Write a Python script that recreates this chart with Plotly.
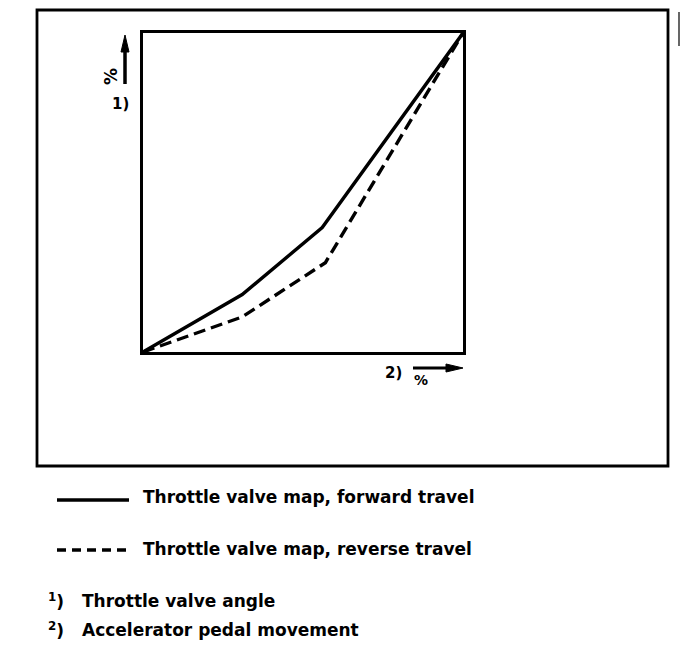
import plotly.graph_objects as go

# Data (percent of full travel)
pedal_forward = [0, 31, 56, 100]
angle_forward = [0, 18, 39, 100]
pedal_reverse = [0, 31, 57, 100]
angle_reverse = [0, 11, 28, 100]

legend_labels = ["Throttle valve map, forward travel", "Throttle valve map, reverse travel"]
footnotes = ["Throttle valve angle", "Accelerator pedal movement"]
footnote_marks = ["1", "2"]

OFF = 8  # page body margin
W, H = 680, 650
L, R, T, B = 143, 463, 33, 352   # plot area in screenshot pixels

def px(x):
    return (x - L) / (R - L)

def py(y):
    return (B - y) / (B - T)

def path(points):
    return "M " + " L ".join(f"{px(a):.5f},{py(b):.5f}" for a, b in points) + " Z"

fig = go.Figure()
fig.add_trace(go.Scatter(x=pedal_forward, y=angle_forward, mode="lines",
                         line=dict(color="black", width=3.4), name=legend_labels[0],
                         showlegend=False))
fig.add_trace(go.Scatter(x=pedal_reverse, y=angle_reverse, mode="lines",
                         line=dict(color="black", width=3.4, dash="12px,6px"), name=legend_labels[1],
                         showlegend=False))

shapes = []
# outer frame
shapes.append(dict(type="rect", xref="paper", yref="paper",
                   x0=px(37), x1=px(668), y0=py(466), y1=py(10),
                   line=dict(color="black", width=2.8)))
# legend samples
shapes.append(dict(type="line", xref="paper", yref="paper",
                   x0=px(57), x1=px(129), y0=py(500), y1=py(500),
                   line=dict(color="black", width=3.5)))
shapes.append(dict(type="line", xref="paper", yref="paper",
                   x0=px(57), x1=px(129), y0=py(550), y1=py(550),
                   line=dict(color="black", width=3.5, dash="9px,6px")))
# scan mark at right edge
shapes.append(dict(type="line", xref="paper", yref="paper",
                   x0=px(679), x1=px(679), y0=py(12), y1=py(46),
                   line=dict(color="black", width=1.2)))
# y-axis arrow
shapes.append(dict(type="line", xref="paper", yref="paper",
                   x0=px(125), x1=px(125), y0=py(84), y1=py(50),
                   line=dict(color="black", width=3.5)))
shapes.append(dict(type="path", xref="paper", yref="paper",
                   path=path([(125, 35), (121, 52), (129, 52)]),
                   fillcolor="black", line=dict(color="black", width=1)))
# x-axis arrow
shapes.append(dict(type="line", xref="paper", yref="paper",
                   x0=px(413), x1=px(450), y0=py(368), y1=py(368),
                   line=dict(color="black", width=3.2)))
shapes.append(dict(type="path", xref="paper", yref="paper",
                   path=path([(463, 368), (446, 364), (446, 372)]),
                   fillcolor="black", line=dict(color="black", width=1)))

FAM = "DejaVu Sans, Liberation Sans, Arial, sans-serif"
font = dict(family=FAM, size=17, color="black", weight="bold")
small = dict(family=FAM, size=15, color="black", weight="bold")
pct = dict(family=FAM, size=17, color="black", weight="bold")
annotations = []
annotations.append(dict(xref="paper", yref="paper", x=px(111), y=py(77),
                        text="%", textangle=-90, showarrow=False, font=pct,
                        xanchor="center", yanchor="middle"))
annotations.append(dict(xref="paper", yref="paper", x=px(120), y=py(104),
                        text="1)", showarrow=False, font=small,
                        xanchor="center", yanchor="middle"))
annotations.append(dict(xref="paper", yref="paper", x=px(393), y=py(373),
                        text="2)", showarrow=False, font=small,
                        xanchor="center", yanchor="middle"))
annotations.append(dict(xref="paper", yref="paper", x=px(421), y=py(380),
                        text="%", showarrow=False, font=dict(family=FAM, size=14, color="black", weight="bold"),
                        xanchor="center", yanchor="middle"))
# legend texts
annotations.append(dict(xref="paper", yref="paper", x=px(141), y=py(497),
                        text=legend_labels[0], showarrow=False, font=font,
                        xanchor="left", yanchor="middle"))
annotations.append(dict(xref="paper", yref="paper", x=px(141), y=py(549),
                        text=legend_labels[1], showarrow=False, font=font,
                        xanchor="left", yanchor="middle"))
# footnotes
for mark, txt, yy in zip(footnote_marks, footnotes, [601, 630]):
    annotations.append(dict(xref="paper", yref="paper", x=px(46), y=py(yy),
                            text="<sup>" + mark + "</sup>)", showarrow=False, font=font,
                            xanchor="left", yanchor="middle"))
    annotations.append(dict(xref="paper", yref="paper", x=px(80), y=py(yy),
                            text=txt, showarrow=False, font=font,
                            xanchor="left", yanchor="middle"))

axis_common = dict(range=[0, 100], showgrid=False, zeroline=False, showticklabels=False,
                   ticks="", showline=True, linecolor="black", linewidth=3, mirror=True)

fig.update_layout(
    width=W, height=H,
    margin=dict(l=L - OFF, r=W - (R - OFF), t=T - OFF, b=H - (B - OFF), pad=0),
    paper_bgcolor="white", plot_bgcolor="white",
    xaxis=axis_common, yaxis=axis_common,
    shapes=shapes, annotations=annotations,
    showlegend=False,
)

fig.write_html("out.html")
